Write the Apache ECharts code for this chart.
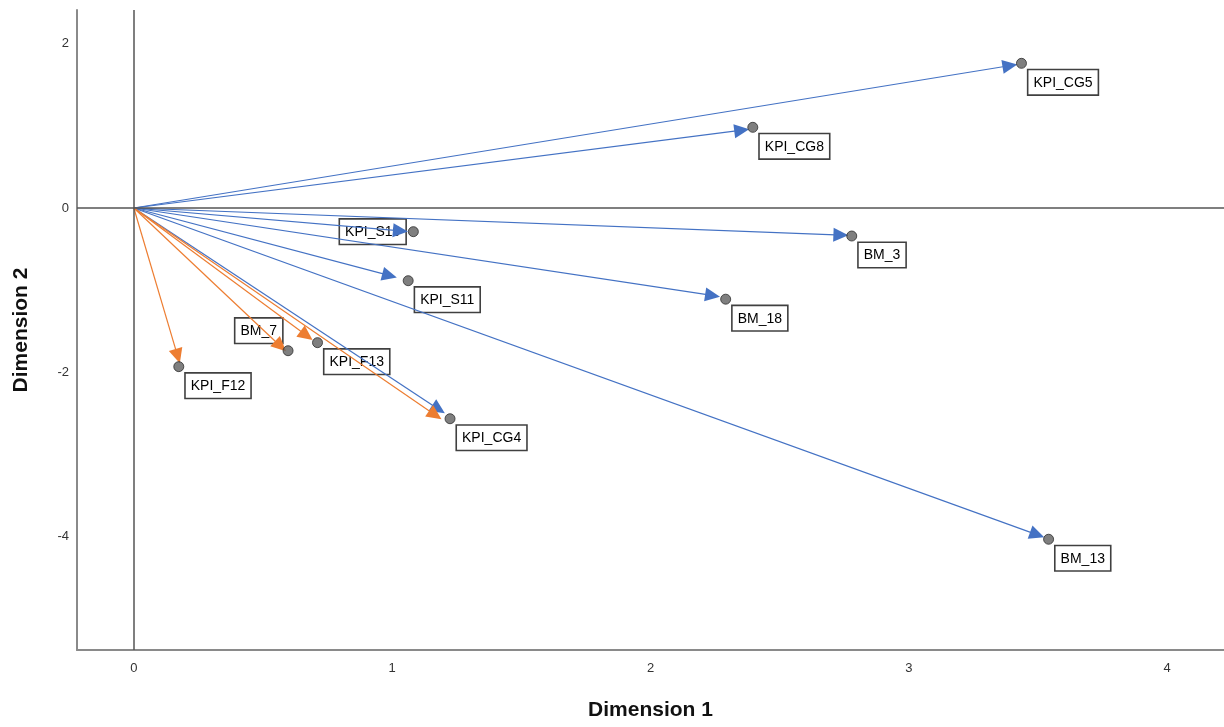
<!DOCTYPE html>
<html>
<head>
<meta charset="utf-8">
<script src="https://cdn.jsdelivr.net/npm/echarts@6/dist/echarts.min.js"></script>
<style>
html,body{margin:0;padding:0;background:#fff;}
#chart{width:1224px;height:727px;}
</style>
</head>
<body>
<div id="chart"></div>
<script>
// ---- data ----
const pointNames = ['KPI_CG5','KPI_CG8','KPI_S10','BM_3','KPI_S11','BM_18','BM_7','KPI_F13','KPI_F12','KPI_CG4','BM_13'];
const pointX = [3.436, 2.396, 1.082, 2.779, 1.062, 2.291, 0.597, 0.711, 0.174, 1.224, 3.541];
const pointY = [1.761, 0.982, -0.288, -0.341, -0.885, -1.110, -1.737, -1.639, -1.931, -2.565, -4.032];

// vector tips (arrow ends) – blue group
const blueNames = ['KPI_CG5','KPI_CG8','KPI_S10','BM_3','KPI_S11','BM_18','KPI_CG4','BM_13'];
const blueX = [3.420, 2.382, 1.061, 2.766, 1.018, 2.269, 1.204, 3.524];
const blueY = [1.748, 0.958, -0.286, -0.332, -0.846, -1.079, -2.499, -4.008];
// vector tips – orange group
const orangeNames = ['KPI_F12','BM_7','KPI_F13','KPI_CG4'];
const orangeX = [0.178, 0.589, 0.692, 1.191];
const orangeY = [-1.890, -1.745, -1.606, -2.572];

const xTicks = [0, 1, 2, 3, 4];
const yTicks = [2, 0, -2, -4];

// ---- styling / label placement ----
const BLUE = '#4472C4';
const ORANGE = '#ED7D31';
const defaultPlace = {position: [12, 12], align: 'left', verticalAlign: 'top'};
const labelPlace = {
  'BM_7':    {position: [-1, -3], align: 'right', verticalAlign: 'bottom'},
  'KPI_S10': {position: [-3, 5], align: 'right', verticalAlign: 'middle'}
};

const pointData = pointNames.map((n, i) => {
  const p = labelPlace[n] || defaultPlace;
  return {name: n, value: [pointX[i], pointY[i]], label: {position: p.position, align: p.align, verticalAlign: p.verticalAlign}};
});
const blueData = blueNames.map((n, i) => ({name: n, value: [blueX[i], blueY[i]]}));
const orangeData = orangeNames.map((n, i) => ({name: n, value: [orangeX[i], orangeY[i]]}));

function arrowRenderer(color) {
  return function (params, api) {
    const o = api.coord([0, 0]);
    const t = api.coord([api.value(0), api.value(1)]);
    const dx = t[0] - o[0], dy = t[1] - o[1];
    const L = Math.sqrt(dx * dx + dy * dy) || 1;
    const ux = dx / L, uy = dy / L;
    const hl = 15, hw = 7;
    const bx = t[0] - ux * hl, by = t[1] - uy * hl;
    return {
      type: 'group',
      children: [
        {type: 'line', shape: {x1: o[0], y1: o[1], x2: bx + ux * 2, y2: by + uy * 2},
         style: {stroke: color, lineWidth: 1.2}},
        {type: 'polygon', shape: {points: [[t[0], t[1]], [bx - uy * hw, by + ux * hw], [bx + uy * hw, by - ux * hw]]},
         style: {fill: color}}
      ]
    };
  };
}

const chart = echarts.init(document.getElementById('chart'), null, {renderer: 'canvas'});
const fontFam = '"Liberation Sans", Arial, sans-serif';
chart.setOption({
  backgroundColor: '#ffffff',
  animation: false,
  grid: {left: 77, right: 0, top: 10, bottom: 77, containLabel: false},
  xAxis: {
    type: 'value', min: -0.22, max: 4.22,
    name: 'Dimension 1', nameLocation: 'middle', nameGap: 50,
    nameTextStyle: {fontFamily: fontFam, fontWeight: 'bold', fontSize: 21, color: '#111'},
    axisLine: {show: true, onZero: false, lineStyle: {color: '#8a8a8a', width: 2}},
    axisTick: {show: false},
    splitLine: {show: false},
    axisLabel: {customValues: xTicks, margin: 12, fontFamily: fontFam, fontSize: 13, color: '#333',
                formatter: v => String(v)}
  },
  yAxis: {
    type: 'value', min: -5.38, max: 2.41,
    name: 'Dimension 2', nameLocation: 'middle', nameGap: 45, nameRotate: 90,
    nameTextStyle: {fontFamily: fontFam, fontWeight: 'bold', fontSize: 21, color: '#111'},
    axisLine: {show: true, onZero: false, lineStyle: {color: '#8a8a8a', width: 2}},
    axisTick: {show: false},
    splitLine: {show: false},
    axisLabel: {customValues: yTicks, margin: 8, fontFamily: fontFam, fontSize: 13, color: '#333',
                formatter: v => String(v)}
  },
  series: [
    {
      type: 'line', data: [], z: 1, silent: true,
      markLine: {
        silent: true, symbol: ['none', 'none'], label: {show: false},
        lineStyle: {color: '#555', width: 1.5, type: 'solid'},
        data: [{xAxis: 0}, {yAxis: 0}]
      }
    },
    {
      type: 'scatter', z: 2, silent: true,
      symbol: 'circle', symbolSize: 10,
      itemStyle: {color: 'rgba(255,255,255,0)'},
      data: pointData,
      label: {
        show: true, formatter: p => p.name, opacity: 1,
        fontFamily: fontFam, fontSize: 14, color: '#000', lineHeight: 17,
        backgroundColor: '#fff', borderColor: '#404040', borderWidth: 1.6, padding: [4, 5, 3, 5]
      },
      labelLayout: {hideOverlap: false}
    },
    {
      type: 'custom', z: 3, silent: true,
      renderItem: arrowRenderer(BLUE),
      encode: {x: 0, y: 1},
      data: blueData
    },
    {
      type: 'custom', z: 3, silent: true,
      renderItem: arrowRenderer(ORANGE),
      encode: {x: 0, y: 1},
      data: orangeData
    },
    {
      type: 'scatter', z: 4, silent: true,
      symbol: 'circle', symbolSize: 10,
      itemStyle: {color: '#5f5f5f', borderColor: '#2e2e2e', borderWidth: 1},
      data: pointData.map(d => ({name: d.name, value: d.value})),
      label: {show: false}
    }
  ]
});
</script>
</body>
</html>
